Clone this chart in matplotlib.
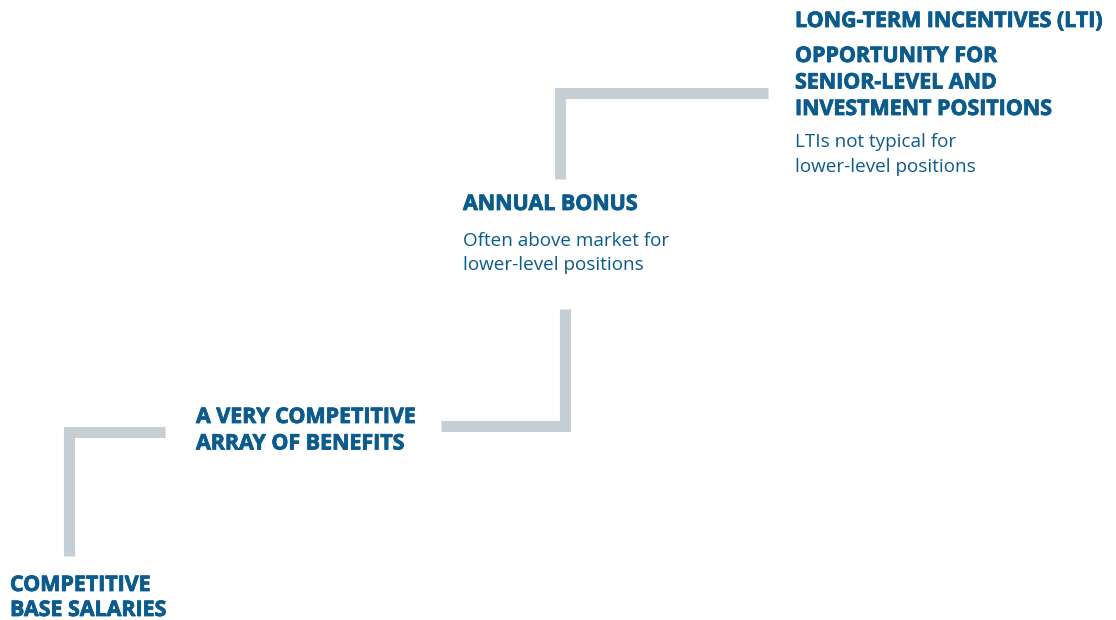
import matplotlib.pyplot as plt
import matplotlib.patheffects as pe

# text blocks of the pay staircase (bottom step first)
titles = [
    ["COMPETITIVE", "BASE SALARIES"],
    ["A VERY COMPETITIVE", "ARRAY OF BENEFITS"],
    ["ANNUAL BONUS"],
    ["LONG-TERM INCENTIVES (LTI)"],
    ["OPPORTUNITY FOR", "SENIOR-LEVEL AND", "INVESTMENT POSITIONS"],
]
notes = [
    [],
    [],
    ["Often above market for", "lower-level positions"],
    [],
    ["LTIs not typical for", "lower-level positions"],
]

# layout in pixel space (x, first baseline, line gap)
title_pos = [(10, 591, 25), (196, 423, 26.5), (463, 210, 26), (795, 27, 26), (795, 62, 26.5)]
note_pos = [None, None, (463, 246), None, (795, 147)]

# connector elbows
connectors = [
    ([69, 69, 165], [556, 432, 432]),
    ([441, 565, 565], [426, 426, 309]),
    ([560, 560, 768], [179, 92.5, 92.5]),
]

blue = "#0b5b8c"
grey = "#c6ced6"

fig = plt.figure(figsize=(11.16, 6.2), dpi=100)
ax = fig.add_axes([0, 0, 1, 1])
ax.set_xlim(0, 1116)
ax.set_ylim(620, 0)
ax.axis("off")

for xs, ys in connectors:
    ax.plot(xs, ys, color=grey, lw=8, solid_capstyle="butt", solid_joinstyle="miter")

bold = [pe.withStroke(linewidth=0.6, foreground=blue)]
for lines, (x, y, gap) in zip(titles, title_pos):
    for i, t in enumerate(lines):
        ax.text(x, y + i * gap, t, color=blue, fontsize=15.4, fontweight="bold",
                family="Open Sans", va="baseline", ha="left", path_effects=bold)

for lines, pos in zip(notes, note_pos):
    if pos is None:
        continue
    x, y = pos
    for i, t in enumerate(lines):
        ax.text(x, y + i * 24.5, t, color=blue, fontsize=13.6,
                family="Open Sans", va="baseline", ha="left")

fig.savefig("out.png", dpi=100)
